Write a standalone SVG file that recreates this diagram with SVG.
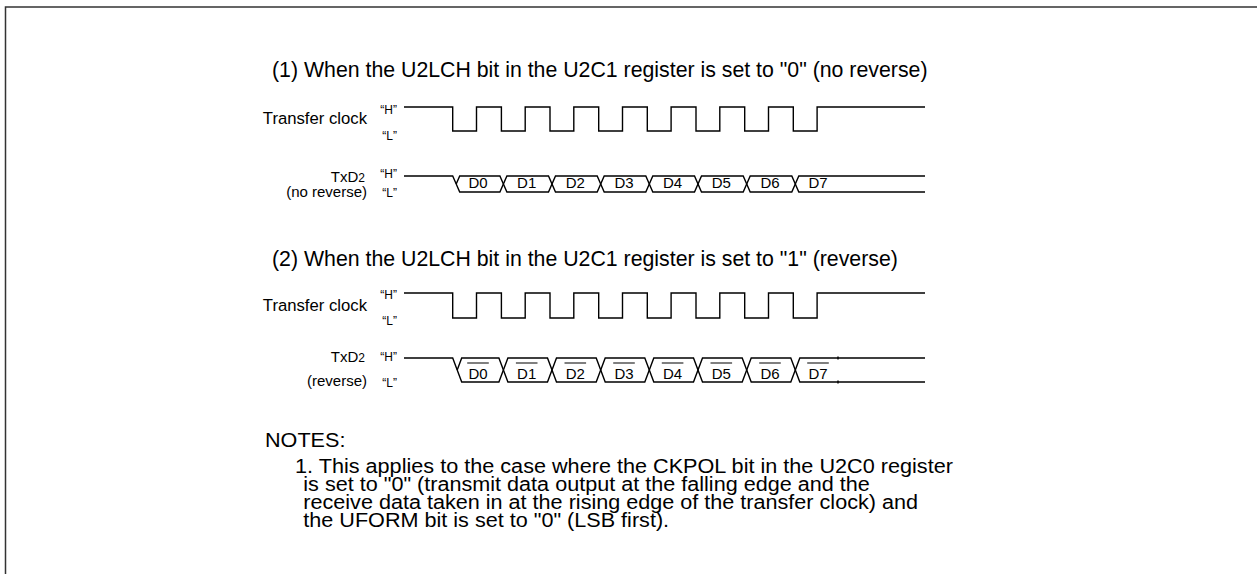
<svg xmlns="http://www.w3.org/2000/svg" width="1257" height="574" viewBox="0 0 1257 574">
<style>
text{font-family:"Liberation Sans",Arial,sans-serif;fill:#000}
.h{font-size:21.3px}
.n{font-size:19.5px}
.lbl{font-size:16.7px}
.tx{font-size:15px}
.hl{font-size:12px}
.d{font-size:15px;text-anchor:middle}
.w{fill:none;stroke:#000;stroke-width:1.4;stroke-linejoin:miter}
.ov{stroke:#000;stroke-width:1.2}
.frame{fill:none;stroke:#333;stroke-width:1.5}
</style>
<rect width="1257" height="574" fill="#fff"/>
<path class="frame" d="M5.5 574 V7 H1257"/>

<g id="heading1"><text class="h" x="272" y="77">(1) When the U2LCH bit in the U2C1 register is set to "0" (no reverse)</text></g>

<g id="clock1">
<text class="lbl" x="367" y="124" text-anchor="end">Transfer clock</text>
<text class="hl" x="397" y="114" text-anchor="end">“H”</text>
<text class="hl" x="397" y="140" text-anchor="end">“L”</text>
<path class="w" d="M404 107 H452.7 V131 H476.5 V107 H501.4 V131 H525.2 V107 H550 V131 H573.8 V107 H598.7 V131 H622.5 V107 H647.3 V131 H671.1 V107 H696 V131 H719.8 V107 H744.7 V131 H768.5 V107 H793.3 V131 H817.1 V107 H925"/>
</g>

<g id="txd1">
<text class="tx" x="365" y="182" text-anchor="end">TxD<tspan font-size="12">2</tspan></text>
<text class="tx" x="367" y="197" text-anchor="end">(no reverse)</text>
<text class="hl" x="397" y="178" text-anchor="end">“H”</text>
<text class="hl" x="397" y="197" text-anchor="end">“L”</text>
<path class="w" d="M404 176 H452.7 L456.2 184"/>
<path class="w" d="M456.2 184 L459.7 176 H499.9 L506.9 192 H548.5 L555.5 176 H597.2 L604.2 192 H645.8 L652.8 176 H694.5 L701.5 192 H743.2 L750.2 176 H791.8 L798.8 192 H925"/>
<path class="w" d="M456.2 184 L459.7 192 H499.9 L506.9 176 H548.5 L555.5 192 H597.2 L604.2 176 H645.8 L652.8 192 H694.5 L701.5 176 H743.2 L750.2 192 H791.8 L798.8 176 H925"/>
<text class="d" x="478" y="188">D0</text>
<text class="d" x="526.7" y="188">D1</text>
<text class="d" x="575.3" y="188">D2</text>
<text class="d" x="624" y="188">D3</text>
<text class="d" x="672.6" y="188">D4</text>
<text class="d" x="721.3" y="188">D5</text>
<text class="d" x="770" y="188">D6</text>
<text class="d" x="818" y="188">D7</text>
</g>

<g id="heading2"><text class="h" x="272" y="266">(2) When the U2LCH bit in the U2C1 register is set to "1" (reverse)</text></g>

<g id="clock2">
<text class="lbl" x="367" y="311" text-anchor="end">Transfer clock</text>
<text class="hl" x="397" y="299" text-anchor="end">“H”</text>
<text class="hl" x="397" y="325" text-anchor="end">“L”</text>
<path class="w" d="M404 293 H452.7 V318 H476.5 V293 H501.4 V318 H525.2 V293 H550 V318 H573.8 V293 H598.7 V318 H622.5 V293 H647.3 V318 H671.1 V293 H696 V318 H719.8 V293 H744.7 V318 H768.5 V293 H793.3 V318 H817.1 V293 H925"/>
</g>

<g id="txd2">
<text class="tx" x="365" y="362" text-anchor="end">TxD<tspan font-size="12">2</tspan></text>
<text class="tx" x="367" y="386" text-anchor="end">(reverse)</text>
<text class="hl" x="397" y="361" text-anchor="end">“H”</text>
<text class="hl" x="397" y="387" text-anchor="end">“L”</text>
<path class="w" d="M404 358 H452.7 L457.2 370"/>
<path class="w" d="M457.2 370 L461.7 358 H498.9 L507.9 382 H547.5 L556.5 358 H596.2 L605.2 382 H644.8 L653.8 358 H693.5 L702.5 382 H742.2 L751.2 358 H790.8 L799.8 382 H925"/>
<path class="w" d="M457.2 370 L461.7 382 H498.9 L507.9 358 H547.5 L556.5 382 H596.2 L605.2 358 H644.8 L653.8 382 H693.5 L702.5 358 H742.2 L751.2 382 H790.8 L799.8 358 H925"/>
<path class="w" d="M838 356.5 V359.5 M838 380.5 V383.5"/>
<text class="d" x="478" y="378.5">D0</text>
<text class="d" x="526.7" y="378.5">D1</text>
<text class="d" x="575.3" y="378.5">D2</text>
<text class="d" x="624" y="378.5">D3</text>
<text class="d" x="672.6" y="378.5">D4</text>
<text class="d" x="721.3" y="378.5">D5</text>
<text class="d" x="770" y="378.5">D6</text>
<text class="d" x="818" y="378.5">D7</text>
<path class="ov" d="M467.2 363 H488.8 M515.9 363 H537.5 M564.5 363 H586.1 M613.2 363 H634.8 M661.8 363 H683.4 M710.5 363 H732.1 M759.2 363 H780.8 M807.2 363 H828.8"/>
</g>

<g id="notes">
<text class="n" x="265" y="447" textLength="80.4" lengthAdjust="spacingAndGlyphs">NOTES:</text>
<text class="n" x="295" y="473" textLength="657.9" lengthAdjust="spacingAndGlyphs">1. This applies to the case where the CKPOL bit in the U2C0 register</text>
<text class="n" x="303.3" y="491" textLength="566.5" lengthAdjust="spacingAndGlyphs">is set to "0" (transmit data output at the falling edge and the</text>
<text class="n" x="303.3" y="509" textLength="614.7" lengthAdjust="spacingAndGlyphs">receive data taken in at the rising edge of the transfer clock) and</text>
<text class="n" x="303.3" y="527" textLength="365.8" lengthAdjust="spacingAndGlyphs">the UFORM bit is set to "0" (LSB first).</text>
</g>
</svg>
